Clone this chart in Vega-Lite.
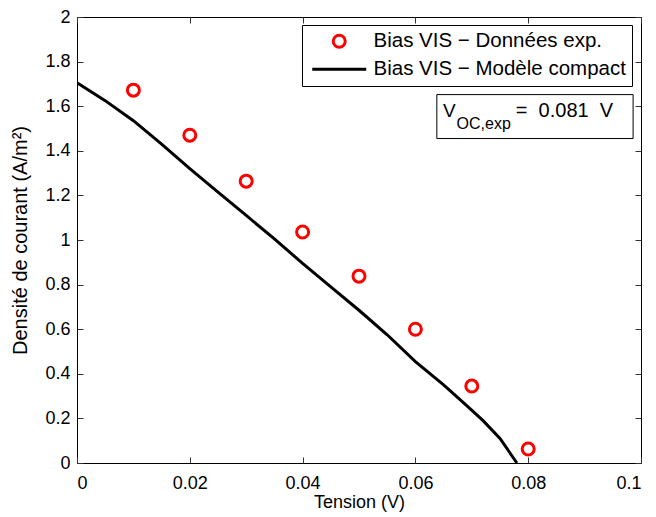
{
  "$schema": "https://vega.github.io/schema/vega-lite/v6.json",
  "width": 564,
  "height": 446,
  "autosize": {"type": "none"},
  "padding": {"left": 77, "top": 17, "right": 15, "bottom": 54},
  "background": "white",
  "config": {
    "font": "Liberation Sans",
    "view": {"stroke": "black", "strokeWidth": 1},
    "axis": {
      "grid": false,
      "domain": false,
      "tickSize": -6,
      "tickColor": "#333333",
      "tickWidth": 1,
      "labelFont": "Liberation Sans",
      "labelFontSize": 18,
      "labelColor": "black",
      "titleFont": "Liberation Sans",
      "titleFontSize": 18,
      "titleFontWeight": "normal",
      "titleColor": "black"
    },
    "legend": {
      "orient": "none",
      "legendX": 225,
      "legendY": 8,
      "strokeColor": "black",
      "fillColor": "white",
      "padding": 6,
      "labelFont": "Liberation Sans",
      "labelFontSize": 20.5,
      "labelColor": "black",
      "labelLimit": 400,
      "labelOffset": 45,
      "symbolStrokeWidth": 3,
      "symbolSize": 144,
      "symbolOpacity": 1,
      "rowPadding": 5,
      "title": null,
      "cornerRadius": 0
    }
  },
  "datasets": {
    "exp": [
      {"tension": 0.01, "densite": 1.672, "serie": "Bias VIS − Données exp."},
      {"tension": 0.02, "densite": 1.470, "serie": "Bias VIS − Données exp."},
      {"tension": 0.03, "densite": 1.264, "serie": "Bias VIS − Données exp."},
      {"tension": 0.04, "densite": 1.036, "serie": "Bias VIS − Données exp."},
      {"tension": 0.05, "densite": 0.838, "serie": "Bias VIS − Données exp."},
      {"tension": 0.06, "densite": 0.600, "serie": "Bias VIS − Données exp."},
      {"tension": 0.07, "densite": 0.345, "serie": "Bias VIS − Données exp."},
      {"tension": 0.08, "densite": 0.063, "serie": "Bias VIS − Données exp."}
    ],
    "model": [
      {"tension": 0.0, "densite": 1.705, "serie": "Bias VIS − Modèle compact"},
      {"tension": 0.005, "densite": 1.625, "serie": "Bias VIS − Modèle compact"},
      {"tension": 0.01, "densite": 1.535, "serie": "Bias VIS − Modèle compact"},
      {"tension": 0.015, "densite": 1.43, "serie": "Bias VIS − Modèle compact"},
      {"tension": 0.02, "densite": 1.32, "serie": "Bias VIS − Modèle compact"},
      {"tension": 0.025, "densite": 1.215, "serie": "Bias VIS − Modèle compact"},
      {"tension": 0.03, "densite": 1.11, "serie": "Bias VIS − Modèle compact"},
      {"tension": 0.035, "densite": 1.005, "serie": "Bias VIS − Modèle compact"},
      {"tension": 0.04, "densite": 0.895, "serie": "Bias VIS − Modèle compact"},
      {"tension": 0.045, "densite": 0.79, "serie": "Bias VIS − Modèle compact"},
      {"tension": 0.05, "densite": 0.685, "serie": "Bias VIS − Modèle compact"},
      {"tension": 0.055, "densite": 0.575, "serie": "Bias VIS − Modèle compact"},
      {"tension": 0.06, "densite": 0.455, "serie": "Bias VIS − Modèle compact"},
      {"tension": 0.065, "densite": 0.35, "serie": "Bias VIS − Modèle compact"},
      {"tension": 0.069, "densite": 0.26, "serie": "Bias VIS − Modèle compact"},
      {"tension": 0.072, "densite": 0.19, "serie": "Bias VIS − Modèle compact"},
      {"tension": 0.075, "densite": 0.11, "serie": "Bias VIS − Modèle compact"},
      {"tension": 0.078, "densite": 0.0, "serie": "Bias VIS − Modèle compact"}
    ]
  },
  "layer": [
    {
      "data": {"name": "model"},
      "mark": {"type": "line", "strokeWidth": 3, "clip": true},
      "encoding": {
        "x": {"field": "tension", "type": "quantitative",
              "scale": {"domain": [0, 0.1], "nice": false, "zero": false},
              "axis": {"orient": "top", "labels": false, "title": null, "values": [0, 0.02, 0.04, 0.06, 0.08, 0.1]}},
        "y": {"field": "densite", "type": "quantitative",
              "scale": {"domain": [0, 2], "nice": false},
              "axis": {"orient": "right", "labels": false, "title": null, "values": [0, 0.2, 0.4, 0.6, 0.8, 1, 1.2, 1.4, 1.6, 1.8, 2]}},
        "color": {"field": "serie", "type": "nominal",
                  "scale": {"domain": ["Bias VIS − Données exp.", "Bias VIS − Modèle compact"], "range": ["#ff0000", "#000000"]}}
      }
    },
    {
      "data": {"name": "exp"},
      "mark": {"type": "point", "shape": "circle", "filled": false, "strokeWidth": 3, "size": 144, "opacity": 1},
      "encoding": {
        "x": {"field": "tension", "type": "quantitative",
              "axis": {"orient": "bottom", "title": "Tension (V)", "values": [0, 0.02, 0.04, 0.06, 0.08, 0.1], "labelExpr": "format(datum.value, '~g')", "labelPadding": 17, "titlePadding": 1}},
        "y": {"field": "densite", "type": "quantitative",
              "axis": {"orient": "left", "title": "Densité de courant (A/m²)", "titleFontSize": 20, "values": [0, 0.2, 0.4, 0.6, 0.8, 1, 1.2, 1.4, 1.6, 1.8, 2], "labelExpr": "format(datum.value, '~g')", "labelPadding": 13, "titlePadding": 14}},
        "color": {"field": "serie", "type": "nominal"}
      }
    },
    {
      "data": {"values": []},
      "mark": {"type": "point", "filled": false, "strokeWidth": 3, "opacity": 1},
      "encoding": {
        "color": {"field": "serie", "type": "nominal"},
        "shape": {"field": "serie", "type": "nominal",
                  "scale": {"domain": ["Bias VIS − Données exp.", "Bias VIS − Modèle compact"],
                            "range": ["M4.5,0A1,1 0 1,1 2.5,0A1,1 0 1,1 4.5,0Z", "M-1,0H8"]}}
      }
    },
    {
      "data": {"values": [{"label": "box"}]},
      "mark": {"type": "rect", "fill": "white", "stroke": "black", "strokeWidth": 1},
      "encoding": {
        "x": {"datum": 0.0638, "type": "quantitative", "axis": null},
        "x2": {"datum": 0.0986},
        "y": {"datum": 1.652, "type": "quantitative", "axis": null},
        "y2": {"datum": 1.455}
      }
    },
    {
      "data": {"values": [{"t": "V"}]},
      "mark": {"type": "text", "align": "left", "baseline": "alphabetic", "fontSize": 19, "font": "Liberation Sans", "color": "black"},
      "encoding": {
        "x": {"datum": 0.0649, "type": "quantitative", "axis": null},
        "y": {"datum": 1.552, "type": "quantitative", "axis": null},
        "text": {"field": "t"}
      }
    },
    {
      "data": {"values": [{"t": "OC,exp"}]},
      "mark": {"type": "text", "align": "left", "baseline": "alphabetic", "fontSize": 16, "font": "Liberation Sans", "color": "black"},
      "encoding": {
        "x": {"datum": 0.0673, "type": "quantitative", "axis": null},
        "y": {"datum": 1.4978, "type": "quantitative", "axis": null},
        "text": {"field": "t"}
      }
    },
    {
      "data": {"values": [{"t": "= \u00a00.081 \u00a0V"}]},
      "mark": {"type": "text", "align": "left", "baseline": "alphabetic", "fontSize": 20, "font": "Liberation Sans", "color": "black"},
      "encoding": {
        "x": {"datum": 0.0778, "type": "quantitative", "axis": null},
        "y": {"datum": 1.552, "type": "quantitative", "axis": null},
        "text": {"field": "t"}
      }
    }
  ],
  "resolve": {"axis": {"x": "independent", "y": "independent"}}
}
